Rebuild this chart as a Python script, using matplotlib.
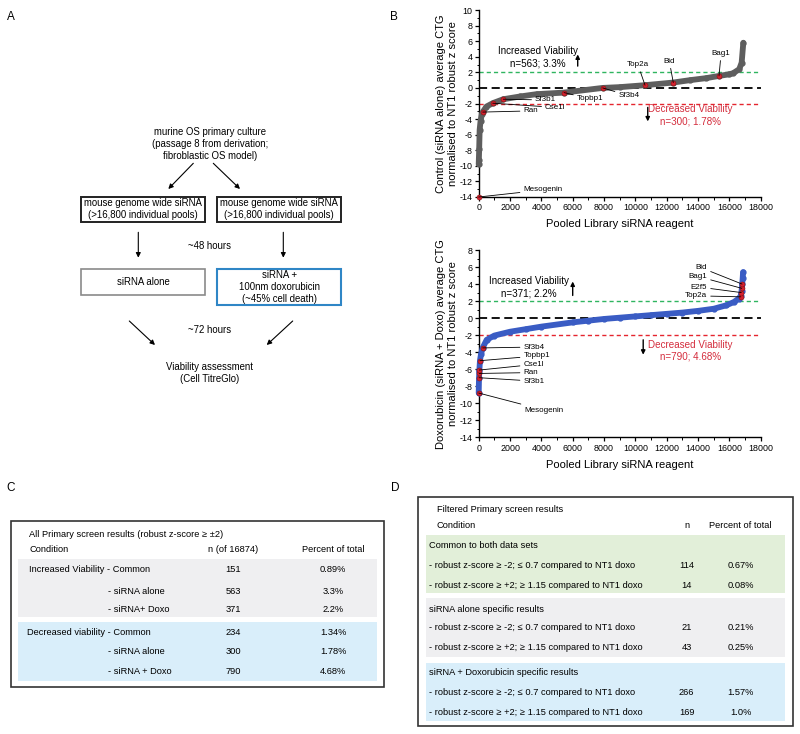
import matplotlib

matplotlib.use("Agg")
import matplotlib.pyplot as plt
from matplotlib.patches import Rectangle
from matplotlib.ticker import MultipleLocator

plt.rcParams["font.family"] = ["Liberation Sans", "DejaVu Sans"]
plt.rcParams["axes.unicode_minus"] = False

# ---- panel B data: sorted robust z-scores ----
ctrl_rank = [0, 10, 30, 60, 120, 200, 255, 490, 894, 1570, 2640, 3700, 5445, 7915,
             9000, 10615, 12420, 13500, 14500, 15340, 16000, 16250, 16630, 16785, 16890]
ctrl_z = [-9.8, -9.2, -7.9, -5.4, -4.2, -3.4, -3.1, -2.4, -1.96, -1.45, -1.1, -0.8, -0.6, 0.0,
          0.1, 0.35, 0.69, 1.0, 1.25, 1.54, 1.75, 1.9, 2.4, 3.25, 5.8]
ctrl_hits = ["Mesogenin", "Ran", "Cse1l", "Sf3b1", "Topbp1", "Sf3b4", "Top2a", "Bid", "Bag1"]
ctrl_hit_rank = [0, 255, 894, 1570, 5445, 7915, 10615, 12420, 15340]
ctrl_hit_z = [-14.0, -3.1, -1.96, -1.45, -0.6, 0.0, 0.35, 0.69, 1.54]

doxo_rank = [0, 20, 40, 80, 150, 250, 510, 1000, 2000, 3000, 4000, 6000, 7000, 8000, 9000,
             10000, 11000, 12000, 13000, 14000, 15000, 15800, 16300, 16600, 16720, 16780,
             16820, 16850, 16874]
doxo_z = [-8.8, -7.0, -6.2, -5.0, -4.2, -3.5, -2.55, -2.05, -1.6, -1.3, -1.0, -0.5, -0.3, -0.1,
          0.05, 0.2, 0.35, 0.5, 0.65, 0.85, 1.1, 1.5, 1.9, 2.3, 2.6, 3.2, 4.0, 4.7, 5.4]
doxo_hits = ["Mesogenin", "Sf3b1", "Ran", "Cse1l", "Topbp1", "Sf3b4", "Top2a", "E2f5", "Bag1", "Bid"]
doxo_hit_rank = [0, 20, 30, 40, 80, 250, 16720, 16760, 16790, 16810]
doxo_hit_z = [-8.8, -7.0, -6.5, -6.1, -5.0, -3.5, 2.5, 3.0, 3.5, 4.0]

# ---- panel A flow text ----
flow_top = "murine OS primary culture\n(passage 8 from derivation;\nfibroblastic OS model)"
flow_lib = "mouse genome wide siRNA\n(>16,800 individual pools)"
flow_alone = "siRNA alone"
flow_doxo = "siRNA +\n100nm doxorubicin\n(~45% cell death)"
flow_end = "Viability assessment\n(Cell TitreGlo)"

# ---- panel C table ----
c_title = "All Primary screen results (robust z-score \u2265 \u00b12)"
c_cond = ["Increased Viability - Common", "- siRNA alone", "- siRNA+ Doxo",
          "Decreased viability - Common", "- siRNA alone", "- siRNA + Doxo"]
c_n = [151, 563, 371, 234, 300, 790]
c_pct = ["0.89%", "3.3%", "2.2%", "1.34%", "1.78%", "4.68%"]

# ---- panel D table ----
d_title = "Filtered Primary screen results"
d_groups = ["Common to both data sets", "siRNA alone specific results",
            "siRNA + Doxorubicin specific results"]
d_rows = ["- robust z-score \u2265 -2; \u2264 0.7 compared to NT1 doxo",
          "- robust z-score \u2265 +2; \u2265 1.15 compared to NT1 doxo"]
d_n = [114, 14, 21, 43, 266, 169]
d_pct = ["0.67%", "0.08%", "0.21%", "0.25%", "1.57%", "1.0%"]

GRAY_BAND = "#efeff1"
BLUE_BAND = "#d9eefa"
GREEN_BAND = "#e2efd9"
RED_TXT = "#d42c3c"

fig = plt.figure(figsize=(8, 7.34), dpi=100)
ov = fig.add_axes([0, 0, 1, 1])
ov.set_xlim(0, 800)
ov.set_ylim(734, 0)
ov.axis("off")


def arrow(ax, x0, y0, x1, y1, lw=0.8, ms=7):
    ax.annotate("", xy=(x1, y1), xytext=(x0, y0),
                arrowprops=dict(arrowstyle="-|>", color="k", lw=lw, mutation_scale=ms,
                                shrinkA=0, shrinkB=0))


def box(x0, y0, x1, y1, ec, lw, fc="none"):
    ov.add_patch(Rectangle((x0, y0), x1 - x0, y1 - y0, fc=fc, ec=ec, lw=lw))


# panel labels
for lab, x, y in [("A", 11, 17), ("B", 394, 17), ("C", 11, 488), ("D", 395, 488)]:
    ov.text(x, y, lab, fontsize=8.5, ha="center", va="center")

# ---- panel A ----
fs = 6.9
ov.text(210, 144, flow_top, fontsize=fs, ha="center", va="center", linespacing=1.25)
arrow(ov, 193.3, 163.3, 168.3, 189)
arrow(ov, 213.3, 163.3, 240, 189)
box(81, 196.7, 204.7, 222.3, "#222222", 1.4)
box(217.3, 196.7, 341.3, 222.3, "#222222", 1.4)
ov.text(142.9, 209.5, flow_lib, fontsize=fs, ha="center", va="center", linespacing=1.25)
ov.text(279.3, 209.5, flow_lib, fontsize=fs, ha="center", va="center", linespacing=1.25)
arrow(ov, 138.3, 232.3, 138.3, 257.7)
arrow(ov, 283.3, 232.3, 283.3, 257.7)
ov.text(210, 246, "~48 hours", fontsize=fs, ha="center", va="center")
box(81, 269.3, 204.7, 295.3, "#8a8a8a", 1.2)
box(217.3, 269.3, 341.3, 305, "#2f86c6", 1.5)
ov.text(142.9, 282.3, flow_alone, fontsize=fs, ha="center", va="center")
ov.text(279.3, 287, flow_doxo, fontsize=fs, ha="center", va="center", linespacing=1.25)
ov.text(210, 330, "~72 hours", fontsize=fs, ha="center", va="center")
arrow(ov, 129.3, 321, 155, 345)
arrow(ov, 292.7, 321, 266.7, 345)
ov.text(210, 373, flow_end, fontsize=fs, ha="center", va="center", linespacing=1.25)

# ---- panel B ----
def setup(ax, ylo, yhi, ylabel):
    ax.set_xlim(0, 18000)
    ax.set_ylim(ylo, yhi)
    for s in ("top", "right"):
        ax.spines[s].set_visible(False)
    ax.spines["left"].set_linewidth(1.0)
    ax.spines["bottom"].set_linewidth(1.0)
    ax.xaxis.set_major_locator(MultipleLocator(2000))
    ax.xaxis.set_minor_locator(MultipleLocator(1000))
    ax.yaxis.set_major_locator(MultipleLocator(2))
    ax.yaxis.set_minor_locator(MultipleLocator(1))
    ax.tick_params(which="major", length=3, width=0.9, labelsize=6.4, pad=1.5)
    ax.tick_params(which="minor", length=1.8, width=0.7)
    ax.set_ylabel(ylabel, fontsize=8, linespacing=1.2)
    ax.yaxis.set_label_coords(-0.075, 0.5)
    ax.set_xlabel("Pooled Library siRNA reagent", fontsize=8)
    ax.xaxis.set_label_coords(0.5, -0.12)
    ax.xaxis.label.set_va("top")
    ax.axhline(2, color="#2fb560", lw=1.0, ls=(0, (3, 2.2)), zorder=1)
    ax.axhline(0, color="k", lw=1.3, ls=(0, (4.5, 2.5)), zorder=1)
    ax.axhline(-2, color="#e5252e", lw=1.0, ls=(0, (3, 2.2)), zorder=1)


def hits(ax, names, rk, zz, pos):
    ax.plot(rk, zz, "o", ms=3.6, mfc="#d4202e", mec="#8a1010", mew=0.4, zorder=4, clip_on=False)
    for name, r, z in zip(names, rk, zz):
        tx, ty, ha = pos[name]
        ax.annotate(name, xy=(r, z), xytext=(tx, ty), fontsize=5.8, ha=ha, va="center",
                    arrowprops=dict(arrowstyle="-", lw=0.6, color="k", shrinkA=0.5, shrinkB=0),
                    zorder=5)


axt = fig.add_axes([478.7 / 800, 1 - 197 / 734, 282 / 800, 187 / 734])
setup(axt, -14, 10, "Control (siRNA alone) average CTG\nnormalised to NT1 robust z score")
axt.plot(ctrl_rank, ctrl_z, color="#5e5e5e", lw=4.2, solid_capstyle="round", zorder=3, clip_on=False)
axt.plot(ctrl_rank, ctrl_z, "o", color="#5e5e5e", ms=3.5, zorder=3, clip_on=False)
ctrl_pos = {
    "Mesogenin": (2850, -13.1, "left"),
    "Ran": (2850, -2.95, "left"),
    "Cse1l": (4230, -2.5, "left"),
    "Sf3b1": (3590, -1.55, "left"),
    "Topbp1": (6255, -1.4, "left"),
    "Sf3b4": (8910, -1.0, "left"),
    "Top2a": (10170, 2.95, "center"),
    "Bid": (12170, 3.4, "center"),
    "Bag1": (15470, 4.4, "center"),
}
hits(axt, ctrl_hits, ctrl_hit_rank, ctrl_hit_z, ctrl_pos)
axt.text(3785, 3.95, "Increased Viability\nn=563; 3.3%", fontsize=7.1, ha="center", va="center",
         linespacing=1.25)
arrow(axt, 6320, 2.8, 6320, 4.3, lw=1.0, ms=6)
axt.text(13530, -3.5, "Decreased Viability\nn=300; 1.78%", fontsize=7.1, ha="center", va="center",
         color=RED_TXT, linespacing=1.25)
arrow(axt, 10790, -2.5, 10790, -4.3, lw=1.0, ms=6)

axb = fig.add_axes([478.7 / 800, 1 - 437.3 / 734, 282 / 800, 187.3 / 734])
setup(axb, -14, 8, "Doxorubicin (siRNA + Doxo) average CTG\nnormalised to NT1 robust z score")
axb.plot(doxo_rank, doxo_z, color="#3a5cc4", lw=4.2, solid_capstyle="round", zorder=3, clip_on=False)
axb.plot(doxo_rank, doxo_z, "o", color="#3a5cc4", ms=3.5, zorder=3, clip_on=False)
doxo_pos = {
    "Mesogenin": (2910, -10.8, "left"),
    "Sf3b1": (2850, -7.4, "left"),
    "Ran": (2850, -6.4, "left"),
    "Cse1l": (2850, -5.45, "left"),
    "Topbp1": (2850, -4.45, "left"),
    "Sf3b4": (2850, -3.4, "left"),
    "Top2a": (14590, 2.62, "right"),
    "E2f5": (14590, 3.65, "right"),
    "Bag1": (14590, 4.9, "right"),
    "Bid": (14590, 5.9, "right"),
}
hits(axb, doxo_hits, doxo_hit_rank, doxo_hit_z, doxo_pos)
axb.text(3190, 3.6, "Increased Viability\nn=371; 2.2%", fontsize=7.1, ha="center", va="center",
         linespacing=1.25)
arrow(axb, 6000, 2.66, 6000, 4.3, lw=1.0, ms=6)
axb.text(13530, -3.85, "Decreased Viability\nn=790; 4.68%", fontsize=7.1, ha="center", va="center",
         color=RED_TXT, linespacing=1.25)
arrow(axb, 10500, -2.55, 10500, -4.3, lw=1.0, ms=6)

# ---- panel C ----
tfs = 6.7
box(10.7, 521, 384.3, 686.7, "#333333", 1.2)
box(18.3, 559.3, 376.7, 616.7, "none", 0, fc=GRAY_BAND)
box(18.3, 622.3, 376.7, 681, "none", 0, fc=BLUE_BAND)
ov.text(29.3, 534.7, c_title, fontsize=tfs, va="center")
ov.text(29.3, 549, "Condition", fontsize=tfs, va="center")
ov.text(233.3, 549, "n (of 16874)", fontsize=tfs, va="center", ha="center")
ov.text(333.3, 549, "Percent of total", fontsize=tfs, va="center", ha="center")
c_y = [570, 591, 609.7, 632.3, 652, 671.3]
c_x = [29.3, 108.3, 108.3, 26.7, 108.3, 108.3]
for cond, n, p, x, y in zip(c_cond, c_n, c_pct, c_x, c_y):
    ov.text(x, y, cond, fontsize=tfs, va="center")
    ov.text(233.3, y, str(n), fontsize=tfs, va="center", ha="center")
    ov.text(333.3, y, p, fontsize=tfs, va="center", ha="center")

# ---- panel D ----
box(418.3, 496.7, 792.7, 725.7, "#333333", 1.2)
bands = [(535.3, 593.3, GREEN_BAND), (598, 657.3, GRAY_BAND), (662.7, 720.7, BLUE_BAND)]
for y0, y1, c in bands:
    box(426, y0, 785, y1, "none", 0, fc=c)
ov.text(436.7, 510, d_title, fontsize=tfs, va="center")
ov.text(436.7, 525, "Condition", fontsize=tfs, va="center")
ov.text(686.7, 525, "n", fontsize=tfs, va="center", ha="center")
ov.text(740.7, 525, "Percent of total", fontsize=tfs, va="center", ha="center")
group_y = [545.7, 609, 672.7]
row_y = [[565.7, 585.7], [627.7, 647.3], [692.3, 712.3]]
k = 0
for g, gy, rys in zip(d_groups, group_y, row_y):
    ov.text(429.3, gy, g, fontsize=tfs, va="center")
    for row, ry in zip(d_rows, rys):
        ov.text(429.3, ry, row, fontsize=tfs, va="center")
        ov.text(686.7, ry, str(d_n[k]), fontsize=tfs, va="center", ha="center")
        ov.text(740.7, ry, d_pct[k], fontsize=tfs, va="center", ha="center")
        k += 1

fig.savefig("out.png", dpi=100)
